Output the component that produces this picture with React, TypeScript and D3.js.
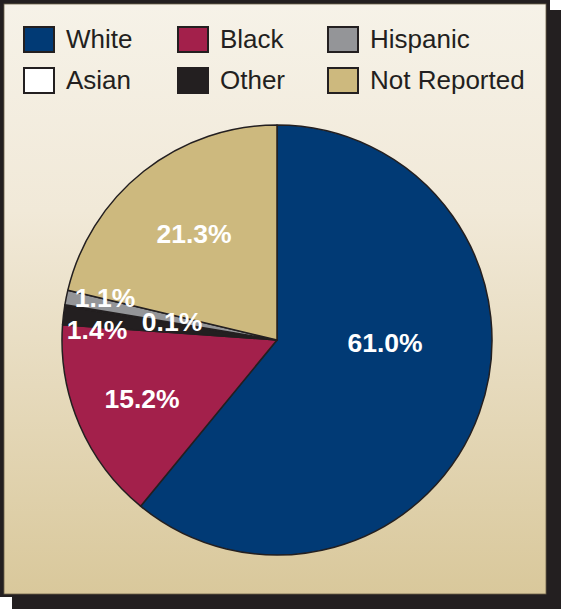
import React from "react";
import * as d3 from "d3";

const categories = ["White", "Black", "Hispanic", "Asian", "Other", "Not Reported"];
const values = [61.0, 15.2, 1.1, 0.1, 1.4, 21.3];
const colors = ["#013a75", "#a3204b", "#949598", "#ffffff", "#231f20", "#cdb97e"];
// order slices go clockwise from 12 o'clock
const pieOrder = ["White", "Black", "Other", "Asian", "Hispanic", "Not Reported"];
// label offsets from pie centre (text baseline)
const labelOffsets: Record<string, [number, number]> = {
  White: [108, 12],
  Black: [-135, 68],
  "Not Reported": [-83, -97],
  Hispanic: [-172, -33],
  Other: [-180, -1],
  Asian: [-105, -9],
};

const W = 561;
const H = 609;
const cx = 277;
const cy = 340;
const R = 215;

export default function App() {
  const data = pieOrder.map((name) => {
    const i = categories.indexOf(name);
    return { name, value: values[i], color: colors[i] };
  });
  const pie = d3
    .pie<{ name: string; value: number; color: string }>()
    .sort(null)
    .value((d) => d.value)
    .startAngle(0)
    .endAngle(2 * Math.PI);
  const arcs = pie(data);
  const arcGen = d3
    .arc<d3.PieArcDatum<{ name: string; value: number; color: string }>>()
    .innerRadius(0)
    .outerRadius(R);

  const legendX = d3.scaleOrdinal<number, number>().domain([0, 1, 2]).range([24, 178, 328]);
  const legendY = d3.scaleOrdinal<number, number>().domain([0, 1]).range([27, 68]);

  return (
    <div style={{ position: "fixed", left: 0, top: 0 }}>
      <svg width={W} height={H} style={{ display: "block" }}>
        <defs>
          <linearGradient id="bg" x1="0" y1="0" x2="0" y2="1">
            <stop offset="0" stopColor="#f6f2e8" />
            <stop offset="0.35" stopColor="#f1e9d8" />
            <stop offset="1" stopColor="#d9c89b" />
          </linearGradient>
        </defs>
        <rect x={0} y={0} width={W} height={H} fill="#ffffff" />
        <rect x={12} y={10} width={549} height={599} fill="#231f20" />
        <rect x={0} y={0} width={550} height={597} fill="#231f20" />
        <rect x={4} y={4} width={542} height={590} fill="url(#bg)" stroke="#6b6048" strokeWidth={0.8} />

        {categories.map((c, i) => {
          const col = i % 3;
          const row = Math.floor(i / 3);
          const x = legendX(col);
          const y = legendY(row);
          return (
            <g key={c}>
              <rect x={x} y={y} width={30} height={25} fill={colors[i]} stroke="#231f20" strokeWidth={2} />
              <text
                x={x + 42}
                y={y + 21}
                fontFamily="Liberation Sans, Arial, sans-serif"
                fontSize={26}
                fill="#231f20"
              >
                {c}
              </text>
            </g>
          );
        })}

        <g transform={`translate(${cx},${cy})`}>
          {arcs.map((a) => (
            <path
              key={a.data.name}
              d={arcGen(a) || ""}
              fill={a.data.color}
              stroke="#231f20"
              strokeWidth={1.5}
              strokeLinejoin="round"
            />
          ))}
          {arcs.map((a) => {
            const [dx, dy] = labelOffsets[a.data.name];
            return (
              <text
                key={"l" + a.data.name}
                x={dx}
                y={dy}
                textAnchor="middle"
                fontFamily="Liberation Sans, Arial, sans-serif"
                fontWeight="bold"
                fontSize={26.5}
                fill="#ffffff"
              >
                {a.data.value.toFixed(1)}%
              </text>
            );
          })}
        </g>
      </svg>
    </div>
  );
}
